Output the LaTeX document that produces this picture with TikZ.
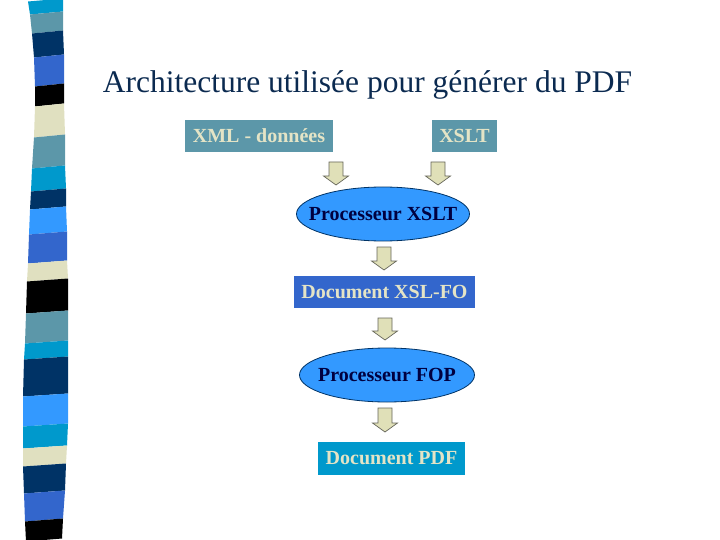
\documentclass[tikz,border=0pt]{standalone}
\usepackage{fontspec}
\setmainfont{Liberation Serif}
\usetikzlibrary{calc,shapes.geometric}
\definecolor{titlecol}{HTML}{0B2A50}
\definecolor{teal}{HTML}{5C97A9}
\definecolor{royal}{HTML}{3366CC}
\definecolor{cyanb}{HTML}{0099CC}
\definecolor{navy}{HTML}{003366}
\definecolor{sky}{HTML}{3399FF}
\definecolor{beige}{HTML}{E0E0C0}
\definecolor{boxtext}{HTML}{E4E4C6}
\definecolor{elltext}{HTML}{000040}
\definecolor{arrfill}{HTML}{E0E0B8}
\definecolor{arrline}{HTML}{66665A}
\tikzset{
  boxnode/.style={rectangle, inner sep=0pt, text=boxtext, font=\fontsize{20}{22}\selectfont\bfseries},
  elltxt/.style={rectangle, inner sep=0pt, text=elltext, font=\fontsize{20}{22}\selectfont\bfseries},
  ellshape/.style={draw=navy, line width=0.8pt, fill=sky},
  blockarr/.style={fill=arrfill, draw=arrline, line width=0.7pt, line join=miter},
}
\newcommand{\blockarrow}[3]{% x, ytop, ybottom
  \draw[blockarr] (#1-7,#2) -- (#1+7,#2) -- (#1+7,#3-9) -- (#1+12.5,#3-9) -- (#1,#3) -- (#1-12.5,#3-9) -- (#1-7,#3-9) -- cycle;}
\begin{document}
\begin{tikzpicture}[x=1pt,y=-1pt]
\useasboundingbox (0,0) rectangle (720,540);
% left band
\def\band{{0/28/63/13/30/63/cyanb},{13/30/63/32/32/63/teal},{32/32/63/56/34/64/navy},{56/34/64/85/35/64/royal},{85/35/64/105/35/64/black},{105/35/64/136/34/65/beige},{136/34/65/167/32/65/teal},{167/32/65/190/31/66/cyanb},{190/31/66/208/30/66/navy},{208/30/66/233/29/67/sky},{233/29/67/262/28/67/royal},{262/28/67/280/27/68/beige},{280/27/68/312/26/68/black},{312/26/68/342/25/68/teal},{342/25/68/358/24/68/cyanb},{358/24/68/395/23/68/navy},{395/23/68/425/23/68/sky},{425/23/68/447/23/67/cyanb},{447/23/67/465/23/66/beige},{465/23/66/492/24/65/navy},{492/24/65/520/25/63/royal},{520/25/63/540/26/62/black}}
\foreach \ya/\la/\ra/\yb/\lb/\rb/\c in \band {
  \fill[\c] (\la,\ya+1.5) -- (\ra,\ya-1.5) -- (\rb,\yb-1.5) -- (\lb,\yb+1.5) -- cycle;
}
% title
\node[anchor=base, text=titlecol, font=\fontsize{31.5}{34}\selectfont, inner sep=0pt] (title) at (367.5,93) {Architecture utilisée pour générer du PDF};
% boxes
\node[boxnode, fill=teal, minimum width=148pt, minimum height=32pt] (xml) at (259,136) {XML - données};
\node[boxnode, fill=teal, minimum width=65pt, minimum height=32pt] (xslt) at (464.5,136) {XSLT};
\draw[ellshape] (383,214) ellipse [x radius=86.5, y radius=27];
\node[elltxt] (proc1) at (383,214) {Processeur XSLT};
\node[boxnode, fill=royal, minimum width=181pt, minimum height=32pt] (fo) at (384.5,292) {Document XSL-FO};
\draw[ellshape] (387,375) ellipse [x radius=87.5, y radius=27];
\node[elltxt] (proc2) at (387,375) {Processeur FOP};
\node[boxnode, fill=cyanb, minimum width=147pt, minimum height=33pt] (pdf) at (391.5,458.5) {Document PDF};
% block arrows
\blockarrow{336}{162}{185}
\blockarrow{438}{162}{185}
\blockarrow{384}{247}{270}
\blockarrow{385}{318}{340}
\blockarrow{385}{408}{432}
\end{tikzpicture}
\end{document}
